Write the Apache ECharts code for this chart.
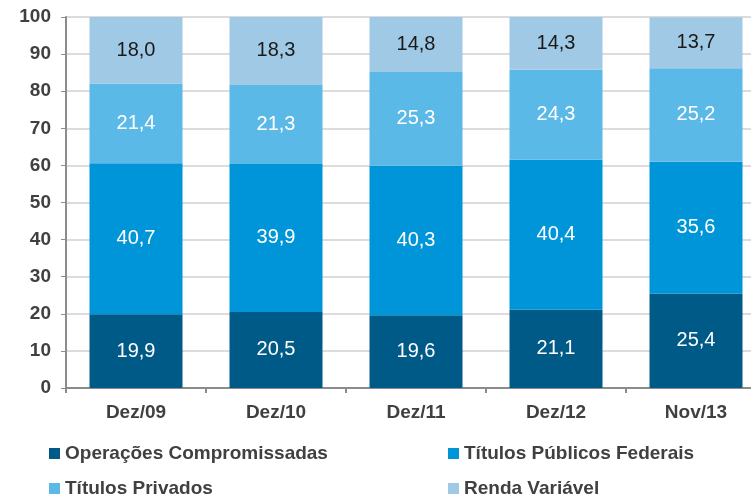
<!DOCTYPE html>
<html>
<head>
<meta charset="utf-8">
<script src="https://cdn.jsdelivr.net/npm/echarts@6/dist/echarts.min.js"></script>
<style>
  html, body { margin: 0; padding: 0; background: #fff; }
  #chart { width: 751px; height: 499px; }
</style>
</head>
<body>
<div id="chart"></div>
<script>
  const categories = ['Dez/09', 'Dez/10', 'Dez/11', 'Dez/12', 'Nov/13'];
  const operacoes = [19.9, 20.5, 19.6, 21.1, 25.4];
  const publicos = [40.7, 39.9, 40.3, 40.4, 35.6];
  const privados = [21.4, 21.3, 25.3, 24.3, 25.2];
  const renda = [18.0, 18.3, 14.8, 14.3, 13.7];
  const yTicks = [0, 10, 20, 30, 40, 50, 60, 70, 80, 90, 100];

  const font = 'Liberation Sans, Arial, sans-serif';
  const fmt = p => p.value.toFixed(1).replace('.', ',');

  function bar(name, data, color, textColor) {
    return {
      name: name,
      type: 'bar',
      stack: 'total',
      barWidth: 93,
      data: data,
      itemStyle: { color: color },
      label: {
        show: true,
        position: 'inside',
        formatter: fmt,
        color: textColor,
        fontFamily: font,
        fontSize: 20
      }
    };
  }

  const legendText = { color: '#404040', fontFamily: font, fontSize: 19, fontWeight: 'bold' };
  function legendItem(name, left, top) {
    return {
      left: left, top: top, orient: 'horizontal', padding: 0, itemGap: 0,
      icon: 'rect', itemWidth: 11, itemHeight: 11,
      textStyle: legendText,
      data: [name]
    };
  }

  const chart = echarts.init(document.getElementById('chart'));
  chart.setOption({
    animation: false,
    grid: { left: 66, right: -15, top: 17, bottom: 111, outerBoundsMode: 'none', containLabel: false },
    xAxis: {
      type: 'category',
      data: categories,
      axisLine: { lineStyle: { color: '#8c8c8c', width: 2 } },
      axisTick: { show: true, length: 5, lineStyle: { color: '#8c8c8c', width: 2 } },
      axisLabel: { color: '#404040', fontFamily: font, fontSize: 19, fontWeight: 'bold', margin: 15 }
    },
    yAxis: {
      type: 'value',
      min: 0,
      max: 100,
      interval: 10,
      axisLine: { show: true, lineStyle: { color: '#8c8c8c', width: 2 } },
      axisTick: { show: true, length: 5, lineStyle: { color: '#8c8c8c', width: 1 } },
      splitLine: { lineStyle: { color: '#dcdcdc', width: 2 } },
      axisLabel: {
        color: '#404040', fontFamily: font, fontSize: 19, fontWeight: 'bold', margin: 15,
        formatter: v => yTicks.includes(v) ? String(v) : ''
      }
    },
    legend: [
      legendItem('Operações Compromissadas', 49, 444),
      legendItem('Títulos Públicos Federais', 448, 444),
      legendItem('Títulos Privados', 49, 479),
      legendItem('Renda Variável', 448, 479)
    ],
    series: [
      bar('Operações Compromissadas', operacoes, '#005a87', '#ffffff'),
      bar('Títulos Públicos Federais', publicos, '#0095d9', '#ffffff'),
      bar('Títulos Privados', privados, '#5bb9e8', '#ffffff'),
      bar('Renda Variável', renda, '#9fc9e4', '#1a1a1a')
    ]
  });
</script>
</body>
</html>
